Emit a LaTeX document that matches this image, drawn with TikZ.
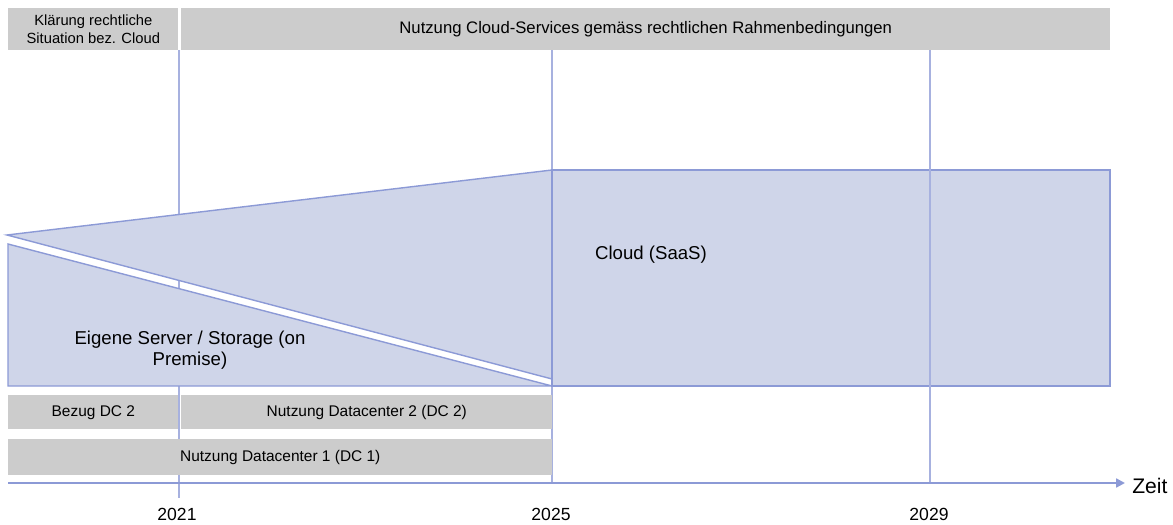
\documentclass[tikz,border=0pt]{standalone}
\usepackage{fontspec}
\setmainfont{Liberation Sans}
\usetikzlibrary{arrows.meta}
\definecolor{barfill}{HTML}{CCCCCC}
\definecolor{areafill}{HTML}{CFD5E9}
\definecolor{areaedge}{HTML}{8C9AD6}
\definecolor{gridline}{HTML}{A7B1DF}
\tikzset{
  bar/.style={fill=barfill, draw=none, inner sep=0pt, anchor=north west, align=center, font=\fontsize{8.8}{10}\selectfont},
  area/.style={fill=areafill, draw=areaedge, line width=0.8pt, line join=miter},
  grid/.style={draw=gridline, line width=0.6pt},
  lbl/.style={font=\fontsize{10.6}{12.2}\selectfont, align=center, inner sep=0pt},
  year/.style={font=\fontsize{10}{12}\selectfont, inner sep=0pt}
}
\begin{document}
\begin{tikzpicture}[x=0.02cm, y=-0.02cm]
  \useasboundingbox (0,0) rectangle (1173,524);

  % time grid (2021 and 2025 behind the areas)
  \coordinate (g21t) at (179,50);  \coordinate (g21b) at (179,498);
  \coordinate (g25t) at (552,50);  \coordinate (g25b) at (552,483);
  \coordinate (g29t) at (930,50);  \coordinate (g29b) at (930,483);
  \draw[grid] (g21t) -- (g21b);
  \draw[grid] (g25t) -- (g25b);

  % top phase bars
  \node[bar, font=\fontsize{8.4}{10}\selectfont, minimum width=3.4cm, minimum height=0.84cm] (klaer) at (8,8)
    {Klärung rechtliche\\Situation bez. Cloud};
  \node[bar, font=\fontsize{9.5}{11}\selectfont, minimum width=18.58cm, minimum height=0.84cm] (nutzcloud) at (181,8)
    {Nutzung Cloud-Services gemäss rechtlichen Rahmenbedingungen};

  % on premise wedge and cloud wedge
  \draw[area] (8,244) -- (552,386) -- (8,386) -- cycle;
  \draw[area] (7,235) -- (552,170) -- (552,379) -- cycle;
  \draw[area] (552,170) rectangle (1110,386);

  \node[lbl] (onprem) at (190,350) {Eigene Server / Storage (on\\Premise)};
  \node[lbl] (cloud) at (651,255) {Cloud (SaaS)};

  % 2029 line stays visible through the cloud area
  \draw[grid] (g29t) -- (g29b);

  % datacenter bars
  \node[bar, minimum width=3.4cm, minimum height=0.68cm] (bezug) at (8,395) {Bezug DC 2};
  \node[bar, minimum width=7.42cm, minimum height=0.68cm] (dc2) at (181,395) {Nutzung Datacenter 2 (DC 2)};
  \node[bar, minimum width=10.88cm, minimum height=0.72cm] (dc1) at (8,439) {Nutzung Datacenter 1 (DC 1)};

  % time axis
  \coordinate (axs) at (8,483);
  \node[font=\fontsize{12}{14}\selectfont, anchor=west, inner sep=0pt] (zeit) at (1132,486) {Zeit};
  \draw[draw=areaedge, line width=1.6pt, -{Triangle[length=5pt,width=5pt]}] (axs) -- (1125,483);

  \node[year] (y21) at (177,514) {2021};
  \node[year] (y25) at (551,514) {2025};
  \node[year] (y29) at (929,514) {2029};
\end{tikzpicture}
\end{document}
